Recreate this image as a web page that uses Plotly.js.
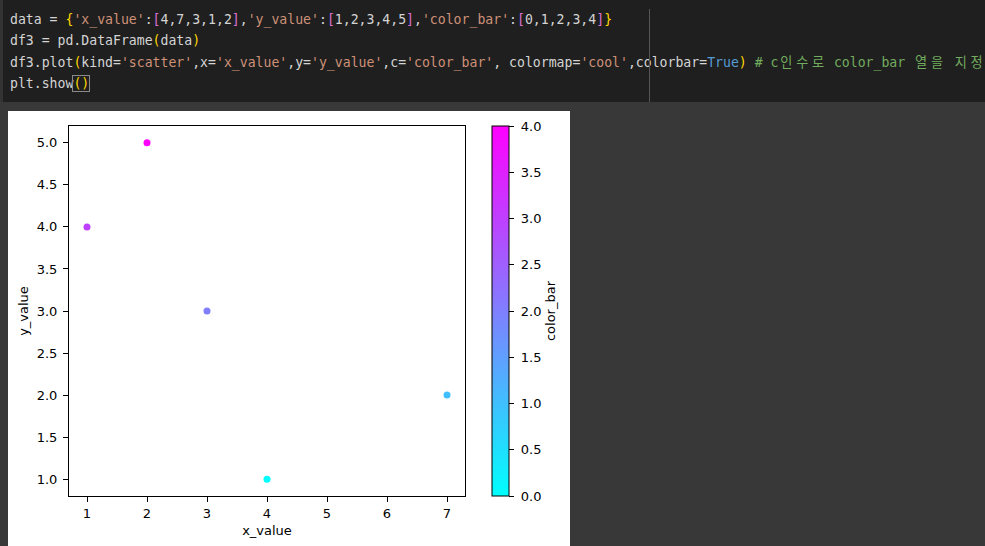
<!DOCTYPE html>
<html>
<head>
<meta charset="utf-8">
<script src="https://cdn.plot.ly/plotly-3.0.1.min.js"></script>
<style>
  html, body { margin:0; padding:0; width:985px; height:546px; overflow:hidden; background:#383838; }
  #code { position:absolute; left:0; top:0; width:985px; height:102px; background:#1f1f1f; overflow:hidden; }
  #code .strip { position:absolute; left:0; top:0; width:3px; height:102px; background:#333333; }
  #code .ruler { position:absolute; left:649px; top:9px; width:1px; height:93px; background:#555555; }
  #code pre { position:absolute; left:10px; top:9px; margin:0; font-family:'DejaVu Sans Mono', monospace; font-size:13.17px; line-height:21px; color:#d4d4d4; white-space:pre; }
  .s { color:#ce9178; } .b { color:#ffd700; } .k { color:#da70d6; } .t { color:#569cd6; } .c { color:#72ac5e; }
  .h { display:inline-block; width:15.86px; text-align:center; font-family:'Noto Sans CJK KR', sans-serif; }
  .m { outline:1px solid #8a8a8a; outline-offset:0px; }
  #fig { position:absolute; left:8px; top:111px; width:562px; height:435px; background:#ffffff; }
</style>
</head>
<body>
<div id="code">
  <div class="strip"></div>
  <pre>data = <span class="b">{</span><span class="s">'x_value'</span>:<span class="k">[</span>4,7,3,1,2<span class="k">]</span>,<span class="s">'y_value'</span>:<span class="k">[</span>1,2,3,4,5<span class="k">]</span>,<span class="s">'color_bar'</span>:<span class="k">[</span>0,1,2,3,4<span class="k">]</span><span class="b">}</span>
df3 = pd.DataFrame<span class="b">(</span>data<span class="b">)</span>
df3.plot<span class="b">(</span>kind=<span class="s">'scatter'</span>,x=<span class="s">'x_value'</span>,y=<span class="s">'y_value'</span>,c=<span class="s">'color_bar'</span>, colormap=<span class="s">'cool'</span>,colorbar=<span class="t">True</span><span class="b">)</span> <span class="c"># c<span class="h">인</span><span class="h">수</span><span class="h">로</span> color_bar <span class="h">열</span><span class="h">을</span> <span class="h">지</span><span class="h">정</span></span>
plt.show<span class="m"><span class="b">()</span></span></pre>
  <div class="ruler"></div>
</div>
<div id="fig"></div>
<script>
// Data
const xValue = [4, 7, 3, 1, 2];
const yValue = [1, 2, 3, 4, 5];
const colorBar = [0, 1, 2, 3, 4];
const xLabel = 'x_value';
const yLabel = 'y_value';
const cLabel = 'color_bar';

const font = {family: 'DejaVu Sans, sans-serif', size: 13, color: '#000000'};

const trace = {
  type: 'scatter',
  mode: 'markers',
  x: xValue,
  y: yValue,
  marker: {
    size: 7,
    color: colorBar,
    cmin: 0,
    cmax: 4,
    colorscale: [[0, 'rgb(0,255,255)'], [1, 'rgb(255,0,255)']],
    line: {width: 0},
    showscale: true,
    colorbar: {
      x: 1.0655, xanchor: 'left', xref: 'paper', xpad: 0,
      y: 0.5, yanchor: 'middle', ypad: 0,
      len: 370, lenmode: 'pixels',
      thickness: 17, thicknessmode: 'pixels',
      outlinewidth: 1, outlinecolor: '#000000',
      ticks: 'outside', ticklen: 5, tickwidth: 1, tickcolor: '#000000',
      tick0: 0, dtick: 0.5, tickformat: '.1f', tickprefix: ' ',
      tickfont: font,
      title: {text: cLabel, side: 'right', font: font},
      bgcolor: 'rgba(0,0,0,0)', borderwidth: 0
    }
  },
  hoverinfo: 'x+y'
};

const axisCommon = {
  showgrid: false, zeroline: false,
  showline: true, mirror: true, linecolor: '#000000', linewidth: 1,
  ticks: 'outside', ticklen: 5, tickwidth: 1, tickcolor: '#000000',
  tickfont: font
};

const layout = {
  width: 562, height: 435,
  margin: {l: 61, r: 104, t: 15, b: 50, pad: 0},
  paper_bgcolor: '#ffffff', plot_bgcolor: '#ffffff',
  font: font,
  showlegend: false,
  xaxis: Object.assign({}, axisCommon, {
    range: [0.7, 7.3], tick0: 1, dtick: 1,
    title: {text: xLabel, font: font, standoff: 6}
  }),
  yaxis: Object.assign({}, axisCommon, {
    range: [0.8, 5.2], tick0: 0, dtick: 0.5, tickformat: '.1f',
    ticklabelstandoff: 3,
    title: {text: yLabel, font: font, standoff: 5}
  })
};

Plotly.newPlot('fig', [trace], layout, {displayModeBar: false, staticPlot: true});
</script>
</body>
</html>
